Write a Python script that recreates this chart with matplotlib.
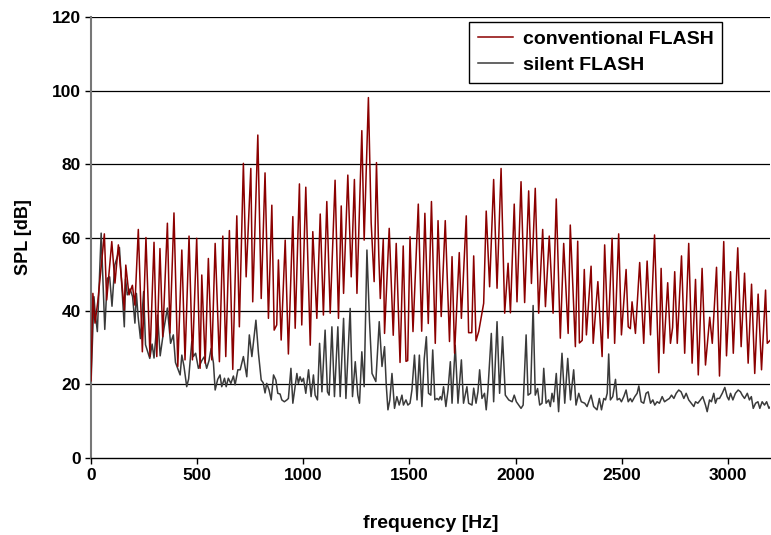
import matplotlib.pyplot as plt

# conventional FLASH (red) - peaks / troughs
conv_freq = [0, 9, 19, 32, 63, 74, 98, 113, 129, 157, 164, 179, 195, 207, 223, 242,
             259, 278, 297, 310, 325, 338, 360, 372, 391, 409, 428, 443, 462, 478,
             498, 514, 522, 538, 553, 569, 585, 605, 621, 635, 652, 668, 687, 699,
             718, 731, 753, 762, 786, 802, 820, 836, 852, 863, 875, 883, 896, 915,
             930, 951, 962, 982, 993, 1012, 1033, 1045, 1064, 1080, 1095, 1111, 1127,
             1150, 1166, 1179, 1190, 1210, 1226, 1241, 1253, 1276, 1287, 1307, 1320,
             1334, 1345, 1356, 1363, 1377, 1383, 1405, 1424, 1438, 1456, 1471, 1484,
             1492, 1503, 1517, 1542, 1558, 1573, 1589, 1604, 1622, 1635, 1650, 1669,
             1689, 1701, 1713, 1735, 1745, 1768, 1779, 1794, 1803, 1814, 1827, 1850,
             1862, 1878, 1897, 1913, 1932, 1949, 1965, 1976, 1994, 2007, 2026, 2043,
             2062, 2075, 2093, 2109, 2128, 2141, 2159, 2177, 2192, 2211, 2227, 2248,
             2258, 2282, 2293, 2301, 2314, 2324, 2334, 2356, 2366, 2388, 2408, 2420,
             2436, 2455, 2467, 2486, 2499, 2521, 2531, 2541, 2549, 2565, 2585, 2604,
             2620, 2636, 2655, 2675, 2686, 2698, 2717, 2730, 2740, 2750, 2762, 2782,
             2797, 2816, 2832, 2848, 2861, 2879, 2895, 2915, 2927, 2947, 2961, 2981,
             2994, 3013, 3026, 3047, 3063, 3079, 3096, 3112, 3127, 3143, 3159, 3178,
             3186, 3201]
conv_spl = [21, 44.8, 36.7, 42.5, 61, 43, 58.9, 47.6, 58, 40.3, 52.5, 44.4, 47, 41.6,
            62.2, 28.9, 60, 27.6, 58.7, 27.6, 57, 33, 63.9, 34, 66.7, 24.9, 56.6, 26.7,
            60.4, 26.7, 59.8, 24.4, 49.8, 25.8, 54.3, 26.7, 58.4, 26.2, 60.4, 27.6,
            61.9, 24.1, 65.9, 35.7, 80.2, 49.3, 78.8, 42.5, 87.9, 43.4, 77.6, 38, 68.8,
            34.8, 36.2, 53.9, 32.1, 59.3, 28.3, 65.7, 35.3, 74.6, 36.2, 73.7, 30.7,
            61.6, 38, 66.4, 38.9, 69.8, 39.4, 75.6, 38, 68.6, 44.8, 77, 49.3, 75.8,
            44.8, 89.1, 59.3, 98.1, 64, 48, 80.4, 55, 43.4, 59.5, 33.9, 62.5, 33.4,
            58.4, 26, 57.7, 26.3, 26.5, 60.2, 34.4, 69.1, 34.5, 66.6, 36.6, 69.8, 31.2,
            64.6, 38.5, 64.6, 31.7, 54.8, 28.5, 55.9, 38, 65.9, 34.1, 34.1, 55, 31.9,
            34.5, 42.1, 67.2, 46.6, 75.8, 46.2, 78.8, 39.4, 53, 39.5, 69.1, 42.5, 75.2,
            42.3, 72.7, 47.5, 73.4, 39.4, 62.2, 41.2, 60.4, 39.4, 70.5, 32.6, 58.4,
            33.9, 63.4, 30.3, 59, 31.3, 32, 51.3, 33.5, 52.2, 31.2, 48, 27.6, 58, 32.6,
            59.8, 31.2, 61, 33.5, 51.3, 35.7, 35.2, 42.5, 33.9, 53.2, 31.2, 53.6, 33.5,
            60.7, 23.2, 51.6, 28.5, 47.7, 31.2, 35.5, 50.7, 31.2, 55, 28.5, 58.4, 25.8,
            48.6, 22.6, 51.6, 25.3, 38.3, 31.2, 51.9, 22.3, 58.9, 27.8, 50.7, 28.5,
            57.2, 30.3, 50.3, 25.8, 47.3, 23, 44.6, 24, 45.7, 31.2, 32.1]

# silent FLASH (dark grey)
silent_freq = [0, 14, 20, 30, 48, 65, 77, 88, 99, 112, 124, 134, 157, 163, 171, 184,
               196, 207, 214, 222, 233, 248, 257, 277, 288, 297, 314, 326, 344, 360,
               375, 388, 398, 420, 428, 438, 451, 460, 475, 482, 493, 506, 522, 533,
               545, 556, 566, 577, 585, 597, 608, 616, 629, 637, 647, 659, 671, 679,
               692, 703, 718, 734, 746, 758, 777, 789, 802, 811, 820, 828, 839, 849,
               860, 871, 880, 891, 899, 911, 923, 930, 942, 951, 970, 977, 985, 993,
               1001, 1012, 1025, 1037, 1048, 1056, 1067, 1077, 1088, 1103, 1114, 1122,
               1135, 1147, 1163, 1174, 1190, 1201, 1221, 1232, 1245, 1257, 1265, 1276,
               1287, 1300, 1312, 1324, 1332, 1342, 1358, 1371, 1383, 1391, 1399, 1408,
               1418, 1430, 1441, 1452, 1465, 1472, 1484, 1493, 1503, 1512, 1524, 1536,
               1547, 1559, 1570, 1580, 1590, 1601, 1610, 1620, 1630, 1638, 1646, 1652,
               1661, 1672, 1682, 1693, 1701, 1716, 1729, 1745, 1755, 1771, 1779, 1795,
               1803, 1814, 1823, 1831, 1842, 1854, 1862, 1870, 1886, 1897, 1913, 1925,
               1939, 1952, 1968, 1984, 1994, 2004, 2015, 2026, 2036, 2050, 2059, 2071,
               2083, 2093, 2104, 2114, 2125, 2133, 2144, 2156, 2164, 2172, 2180, 2192,
               2203, 2219, 2232, 2246, 2259, 2274, 2285, 2298, 2310, 2326, 2337, 2345,
               2356, 2368, 2384, 2395, 2405, 2416, 2424, 2432, 2439, 2447, 2458, 2471,
               2479, 2490, 2499, 2510, 2521, 2531, 2541, 2549, 2562, 2573, 2581, 2592,
               2604, 2615, 2625, 2636, 2647, 2656, 2667, 2678, 2691, 2702, 2714, 2725,
               2735, 2746, 2757, 2769, 2780, 2793, 2804, 2816, 2828, 2840, 2848, 2859,
               2871, 2882, 2895, 2903, 2914, 2923, 2934, 2942, 2950, 2961, 2974, 2986,
               2997, 3005, 3013, 3024, 3036, 3049, 3060, 3068, 3079, 3092, 3102, 3111,
               3120, 3131, 3142, 3151, 3162, 3173, 3183, 3194, 3201]
silent_spl = [20, 43.9, 39.4, 34.4, 61.2, 35, 48.9, 49.3, 41.3, 52.5, 54.8, 57.3, 35.7,
              48.7, 44.4, 46, 43.9, 36.7, 44.8, 38.5, 32.5, 45.3, 30.8, 27.1, 31, 27.2,
              38.9, 27.8, 35.3, 40.8, 31.2, 33.5, 26, 22.6, 28, 25, 19.4, 21.5, 31.7,
              27.6, 28.5, 24.4, 26.5, 27.5, 24.4, 26.5, 29.8, 25.8, 18.5, 21.4, 22.6,
              19.4, 21.7, 19.4, 21.7, 20.3, 22.3, 19.9, 24, 24, 27.6, 22.1, 33.5, 27.6,
              37.5, 28.5, 21.2, 20.5, 17.7, 20.3, 18.5, 15.8, 22.6, 21.2, 17.6, 17.4,
              15.8, 15.3, 15.8, 16.2, 24.4, 14.9, 23, 20.3, 22.1, 20.8, 21.7, 17.6, 24,
              16.7, 22.6, 17.1, 15.8, 31.2, 18, 34.8, 18, 17.1, 35.7, 16.7, 35.7, 16.7,
              38, 16.2, 40.7, 16.7, 26.2, 17.1, 14.9, 28.9, 19.4, 56.6, 37.5, 23, 22,
              20.8, 37.1, 24.9, 30.3, 19.9, 13.1, 15.8, 23, 13.5, 16.7, 14.4, 17.1, 14.4,
              15.8, 14.4, 14.9, 18.5, 28, 15.8, 28, 14, 27, 33, 17.6, 17.1, 29.4, 15.8,
              16.2, 15.8, 16.7, 15.8, 19.4, 14, 18.5, 26.2, 14.9, 30.7, 14.9, 26.7, 14.9,
              19.4, 14.9, 14.4, 19, 14.9, 18, 24, 16.2, 17.6, 13.1, 18.5, 33.9, 15.3,
              37.1, 17.6, 33, 17.1, 15.8, 15.3, 17.1, 15.3, 14.4, 13.5, 14.4, 33.5, 17.1,
              17.6, 41.5, 17.1, 18.9, 14.4, 14.9, 24.4, 14.9, 15.8, 14, 17.6, 15.3, 23,
              12.6, 28.5, 14.9, 27.1, 15.8, 24, 14.4, 17.6, 15.3, 14.9, 14, 15.3, 17.1,
              14, 13.1, 16.2, 13.1, 16.2, 15.8, 17.6, 28.3, 15.8, 16.7, 21.4, 15.8, 16.2,
              15.3, 16.7, 18.5, 15.3, 16.2, 15.3, 16.7, 17.6, 19.6, 15.3, 14.9, 17.6, 18,
              14.9, 15.8, 14.4, 15.3, 14.9, 16.7, 15.3, 15.8, 16.2, 17.1, 16.2, 17.6,
              18.5, 18, 16.2, 17.6, 15.8, 14.9, 14, 15.3, 14.9, 15.8, 16.7, 14.4, 12.6,
              15.8, 15.3, 17.6, 14.9, 16.2, 16.2, 17.6, 19.2, 16.7, 15.8, 17.6, 15.8,
              17.6, 18.5, 18, 17.1, 16.2, 17.6, 15.8, 16.7, 13.5, 14.9, 15.3, 13.5, 15.3,
              14.4, 15.3, 13.5, 14]

yticks = [0, 20, 40, 60, 80, 100, 120]
xticks = [0, 500, 1000, 1500, 2000, 2500, 3000]

plt.rcParams['font.family'] = ['Liberation Sans', 'DejaVu Sans']
plt.rcParams['font.weight'] = 'bold'

fig = plt.figure(figsize=(7.71, 5.35), dpi=100)
ax = fig.add_axes([0.118, 0.144, 0.881, 0.824])

for y in yticks[1:]:
    ax.axhline(y, color='black', lw=0.9, zorder=1)

ax.plot(conv_freq, conv_spl, color='#8b0000', lw=1.1, label='conventional FLASH', zorder=3)
ax.plot(silent_freq, silent_spl, color='#3a3a3a', lw=1.1, label='silent FLASH', zorder=2)

ax.set_xlim(0, 3200)
ax.set_ylim(0, 120)
ax.set_xticks(xticks)
ax.set_yticks(yticks)
ax.tick_params(labelsize=12.5, length=4, width=1, direction='out')
for s in ['top', 'right']:
    ax.spines[s].set_visible(False)
ax.spines['left'].set_color('#777777')
ax.spines['left'].set_linewidth(1.5)
ax.spines['bottom'].set_linewidth(1)

ax.set_xlabel('frequency [Hz]', fontsize=14, fontweight='bold', labelpad=23)
ax.set_ylabel('SPL [dB]', fontsize=13, fontweight='bold', labelpad=14)

leg = ax.legend(loc='upper right', bbox_to_anchor=(0.944, 1.012), fontsize=14,
                frameon=True, fancybox=False, edgecolor='black', handlelength=1.8,
                handletextpad=0.5, borderpad=0.45, labelspacing=0.45)
leg.get_frame().set_linewidth(1)
leg.get_frame().set_alpha(1)

plt.savefig('out.png', dpi=100)
